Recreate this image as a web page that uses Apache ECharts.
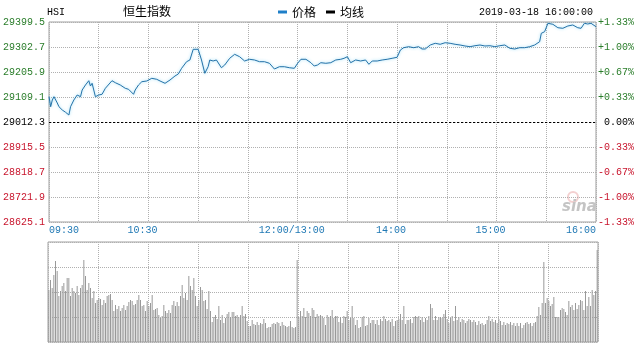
<!DOCTYPE html>
<html><head><meta charset="utf-8">
<script src="https://cdn.jsdelivr.net/npm/echarts@6/dist/echarts.min.js"></script>
<style>html,body{margin:0;padding:0;background:#fff}#c{width:637px;height:345px}</style>
</head><body><div id="c"></div>
<script>
// ---- data ----
const headerCode = 'HSI';
const headerName = '恒生指数';
const headerTime = '2019-03-18 16:00:00';
const seriesNames = ['价格', '均线'];
const BASE = 29012.3;   // previous close (middle line)
const STEP = 96.8;      // price per grid row
const priceMinutes = [0,1,2,3,5,6,7,8,10,12,13,15,17,19,20,22,24,25,26,28,30,32,34,38,40,43,46,48,51,52,54,56,59,62,65,67,70,73,76,78,80,83,85,87,88,90,92,94,96,97,99,101,104,106,109,112,115,118,121,124,127,130,133,136,139,142,145,148,150,152,155,158,160,162,164,167,170,173,176,178,180,182,185,188,191,193,195,198,201,204,207,210,212,214,217,220,223,225,227,230,233,236,239,242,245,248,251,254,257,260,263,266,269,272,275,278,281,284,287,290,293,296,297,299,301,304,307,310,313,316,319,321,323,325,327,330];
const prices = [29110.3,29071.5,29097.5,29110.3,29085.9,29071.5,29078.1,29058.8,29049.9,29039.4,29071.5,29097.5,29116.8,29110.3,29136.2,29155.6,29172.2,29151.7,29162.1,29110.3,29116.8,29119.6,29142.8,29172.2,29164.5,29155.6,29142.8,29138.9,29119.6,29136.2,29155.6,29168.3,29171.1,29181.5,29177.6,29171.1,29162.1,29174.9,29190.4,29198.2,29220.2,29245.8,29252.4,29293.8,29297.7,29293.8,29252.4,29200.9,29226.4,29252.4,29248.5,29252.4,29222.5,29233.0,29258.9,29274.4,29265.1,29248.5,29255.1,29252.4,29245.8,29245.8,29239.6,29217.5,29226.4,29226.4,29222.5,29220.2,29239.6,29255.1,29255.1,29241.9,29229.1,29233.0,29241.9,29239.6,29241.9,29252.4,29255.1,29258.9,29265.1,29241.9,29252.4,29248.5,29252.4,29235.7,29248.5,29248.5,29252.4,29255.1,29258.9,29262.8,29291.1,29300.0,29303.9,29300.0,29303.9,29295.0,29295.0,29310.4,29317.0,29313.2,29319.3,29317.0,29313.2,29310.4,29306.6,29303.9,29307.7,29310.4,29306.6,29307.7,29303.9,29307.7,29310.4,29297.7,29295.0,29300.0,29300.0,29303.9,29310.4,29323.2,29355.7,29361.9,29394.5,29390.6,29377.4,29375.1,29384.0,29387.9,29377.4,29375.1,29394.5,29391.8,29394.5,29381.3];
const volumes = [52,62,54,67,81,71,46,51,56,59,51,64,64,46,54,51,49,56,47,54,57,82,66,52,59,54,44,51,39,42,44,43,37,42,39,46,47,48,42,31,37,33,36,31,34,37,32,36,40,42,41,37,38,42,47,42,36,37,31,41,36,39,47,32,33,34,27,24,26,37,31,29,32,29,37,41,36,40,36,46,57,44,49,42,66,56,52,64,46,36,42,55,52,41,42,33,51,31,20,25,27,23,36,22,27,19,24,28,30,25,30,30,26,27,25,27,36,26,28,21,16,16,22,18,17,20,17,19,18,23,19,14,15,15,18,19,18,20,19,16,20,17,16,15,16,21,15,14,15,
82,25,31,26,34,25,31,29,26,34,32,25,28,26,
27,26,24,17,27,25,26,32,24,26,26,20,25,19,26,25,31,22,24,36,24,17,22,14,15,25,26,16,17,24,19,22,22,18,22,17,23,21,26,23,21,22,20,23,16,21,22,23,28,22,36,18,22,22,23,19,25,26,25,26,22,25,20,24,22,26,38,34,22,26,22,25,25,24,28,32,23,19,24,26,21,36,22,25,20,23,22,19,21,23,22,20,22,20,17,21,18,19,17,18,22,26,21,23,20,22,19,23,21,17,20,17,19,18,20,17,19,16,19,16,19,14,17,19,20,18,19,16,19,20,26,35,27,39,80,39,44,41,36,38,45,25,25,25,32,34,33,30,27,41,35,37,32,39,33,37,42,41,32,51,36,45,36,52,47,51,92];
const timeTickMinutes = [0, 60, 150, 210, 270, 330];
const timeTickLabels = ['09:30', '10:30', '12:00/13:00', '14:00', '15:00', '16:00'];

// ---- chart ----
const MONO = '"Liberation Mono","DejaVu Sans Mono",monospace';
const CJK = '"Noto Sans CJK SC","Noto Sans",sans-serif';
const GREEN = '#2a7d2a', RED = '#c8142c', BLUE_T = '#1f78b4';
const LINE_C = '#2572a8';
function colorFor(v) { return Math.abs(v) < 1e-6 ? '#000' : (v > 0 ? GREEN : RED); }
const dotted = { color: '#b0b0b0', type: [1, 1], width: 1 };

const chart = echarts.init(document.getElementById('c'), null, { renderer: 'canvas' });
const option = {
  animation: false,
  backgroundColor: '#fff',
  legend: {
    data: seriesNames, left: 278, top: 6, padding: 0, icon: 'rect', itemWidth: 9, itemHeight: 3, itemGap: 10,
    textStyle: { fontSize: 12, color: '#000', fontFamily: CJK }
  },
  graphic: [
    { type: 'text', left: 47, top: 7, style: { text: headerCode, font: '10px ' + MONO, fill: '#000' } },
    { type: 'text', left: 123, top: 5, style: { text: headerName, font: '12px ' + CJK, fill: '#000' } },
    { type: 'text', right: 44, top: 7, style: { text: headerTime, font: '10px ' + MONO, fill: '#000' } },
    { type: 'circle', shape: { cx: 573, cy: 197, r: 5 }, style: { fill: 'none', stroke: 'rgba(220,120,120,0.35)', lineWidth: 2 } },
    { type: 'text', left: 562, top: 200, style: { text: 'sina', font: 'italic bold 15px "DejaVu Sans",sans-serif', fill: '#c4c4c4' } }
  ],
  grid: [
    { left: 48, right: 39, top: 22, height: 200, show: true, borderColor: '#a0a0a0', borderWidth: 1 },
    { left: 48, right: 39, top: 242, height: 100, show: true, borderColor: '#a0a0a0', borderWidth: 1 }
  ],
  xAxis: [
    {
      gridIndex: 0, type: 'value', min: 0, max: 330, interval: 30,
      axisLine: { show: false }, axisTick: { show: false },
      splitLine: { show: true, lineStyle: dotted },
      axisLabel: {
        margin: 3, fontFamily: MONO, fontSize: 10, color: BLUE_T,
        alignMinLabel: 'left', alignMaxLabel: 'right', showMinLabel: true, showMaxLabel: true,
        formatter: function (v) {
          const k = timeTickMinutes.indexOf(Math.round(v));
          if (k < 0) return '';
          const edge = (k === 0 || k === timeTickLabels.length - 1);
          return '{' + (edge ? 'e' : 'm') + '|' + timeTickLabels[k] + '}';
        },
        rich: {
          e: { fontFamily: MONO, fontSize: 10, color: BLUE_T },
          m: { fontFamily: MONO, fontSize: 10, color: BLUE_T, padding: [0, 12, 0, 0] }
        }
      }
    },
    {
      gridIndex: 1, type: 'category', data: volumes.map((_, i) => i), boundaryGap: true,
      axisLine: { show: false }, axisTick: { show: false }, axisLabel: { show: false }, splitLine: { show: false }
    },
    {
      gridIndex: 1, type: 'value', min: 0, max: 330, interval: 30,
      axisLine: { show: false }, axisTick: { show: false }, axisLabel: { show: false },
      splitLine: { show: true, lineStyle: dotted }
    }
  ],
  yAxis: [
    {
      gridIndex: 0, type: 'value', position: 'left', min: -4 * STEP, max: 4 * STEP, interval: STEP,
      axisLine: { show: false }, axisTick: { show: false },
      splitLine: { show: true, lineStyle: dotted },
      axisLabel: {
        margin: 4, fontFamily: MONO, fontSize: 10, padding: [0, 0, 6, 0],
        formatter: v => (BASE + v).toFixed(1),
        color: v => colorFor(v)
      }
    },
    {
      gridIndex: 0, type: 'value', position: 'right', min: -4 * STEP, max: 4 * STEP, interval: STEP,
      axisLine: { show: false }, axisTick: { show: false }, splitLine: { show: false },
      axisLabel: {
        margin: 2, fontFamily: MONO, fontSize: 10, padding: [0, 0, 6, 0],
        formatter: function (v) {
          if (Math.abs(v) < 1e-6) return ' 0.00%';
          const p = v / BASE * 100;
          return (p > 0 ? '+' : '-') + Math.abs(p).toFixed(2) + '%';
        },
        color: v => colorFor(v)
      }
    },
    {
      gridIndex: 1, type: 'value', min: 0, max: 100, interval: 25,
      axisLine: { show: false }, axisTick: { show: false }, axisLabel: { show: false },
      splitLine: { show: true, lineStyle: dotted }
    }
  ],
  series: [
    {
      name: seriesNames[0], type: 'line', xAxisIndex: 0, yAxisIndex: 0,
      data: priceMinutes.map((m, i) => [m, prices[i] - BASE]),
      showSymbol: false, symbol: 'none', silent: true, z: 5,
      color: '#1e7fc8',
      lineStyle: { color: LINE_C, width: 1, shadowColor: 'rgba(120,210,245,0.9)', shadowBlur: 3 },
      markLine: {
        silent: true, symbol: 'none', label: { show: false },
        lineStyle: { color: '#000', type: [2, 2], width: 1 },
        data: [{ yAxis: 0 }]
      }
    },
    {
      name: seriesNames[1], type: 'line', xAxisIndex: 0, yAxisIndex: 0, data: [],
      color: '#000', showSymbol: false
    },
    {
      name: 'volume', type: 'bar', xAxisIndex: 1, yAxisIndex: 2, data: volumes,
      barWidth: 1, silent: true, itemStyle: { color: '#999' }
    }
  ]
};
chart.setOption(option);
</script></body></html>
